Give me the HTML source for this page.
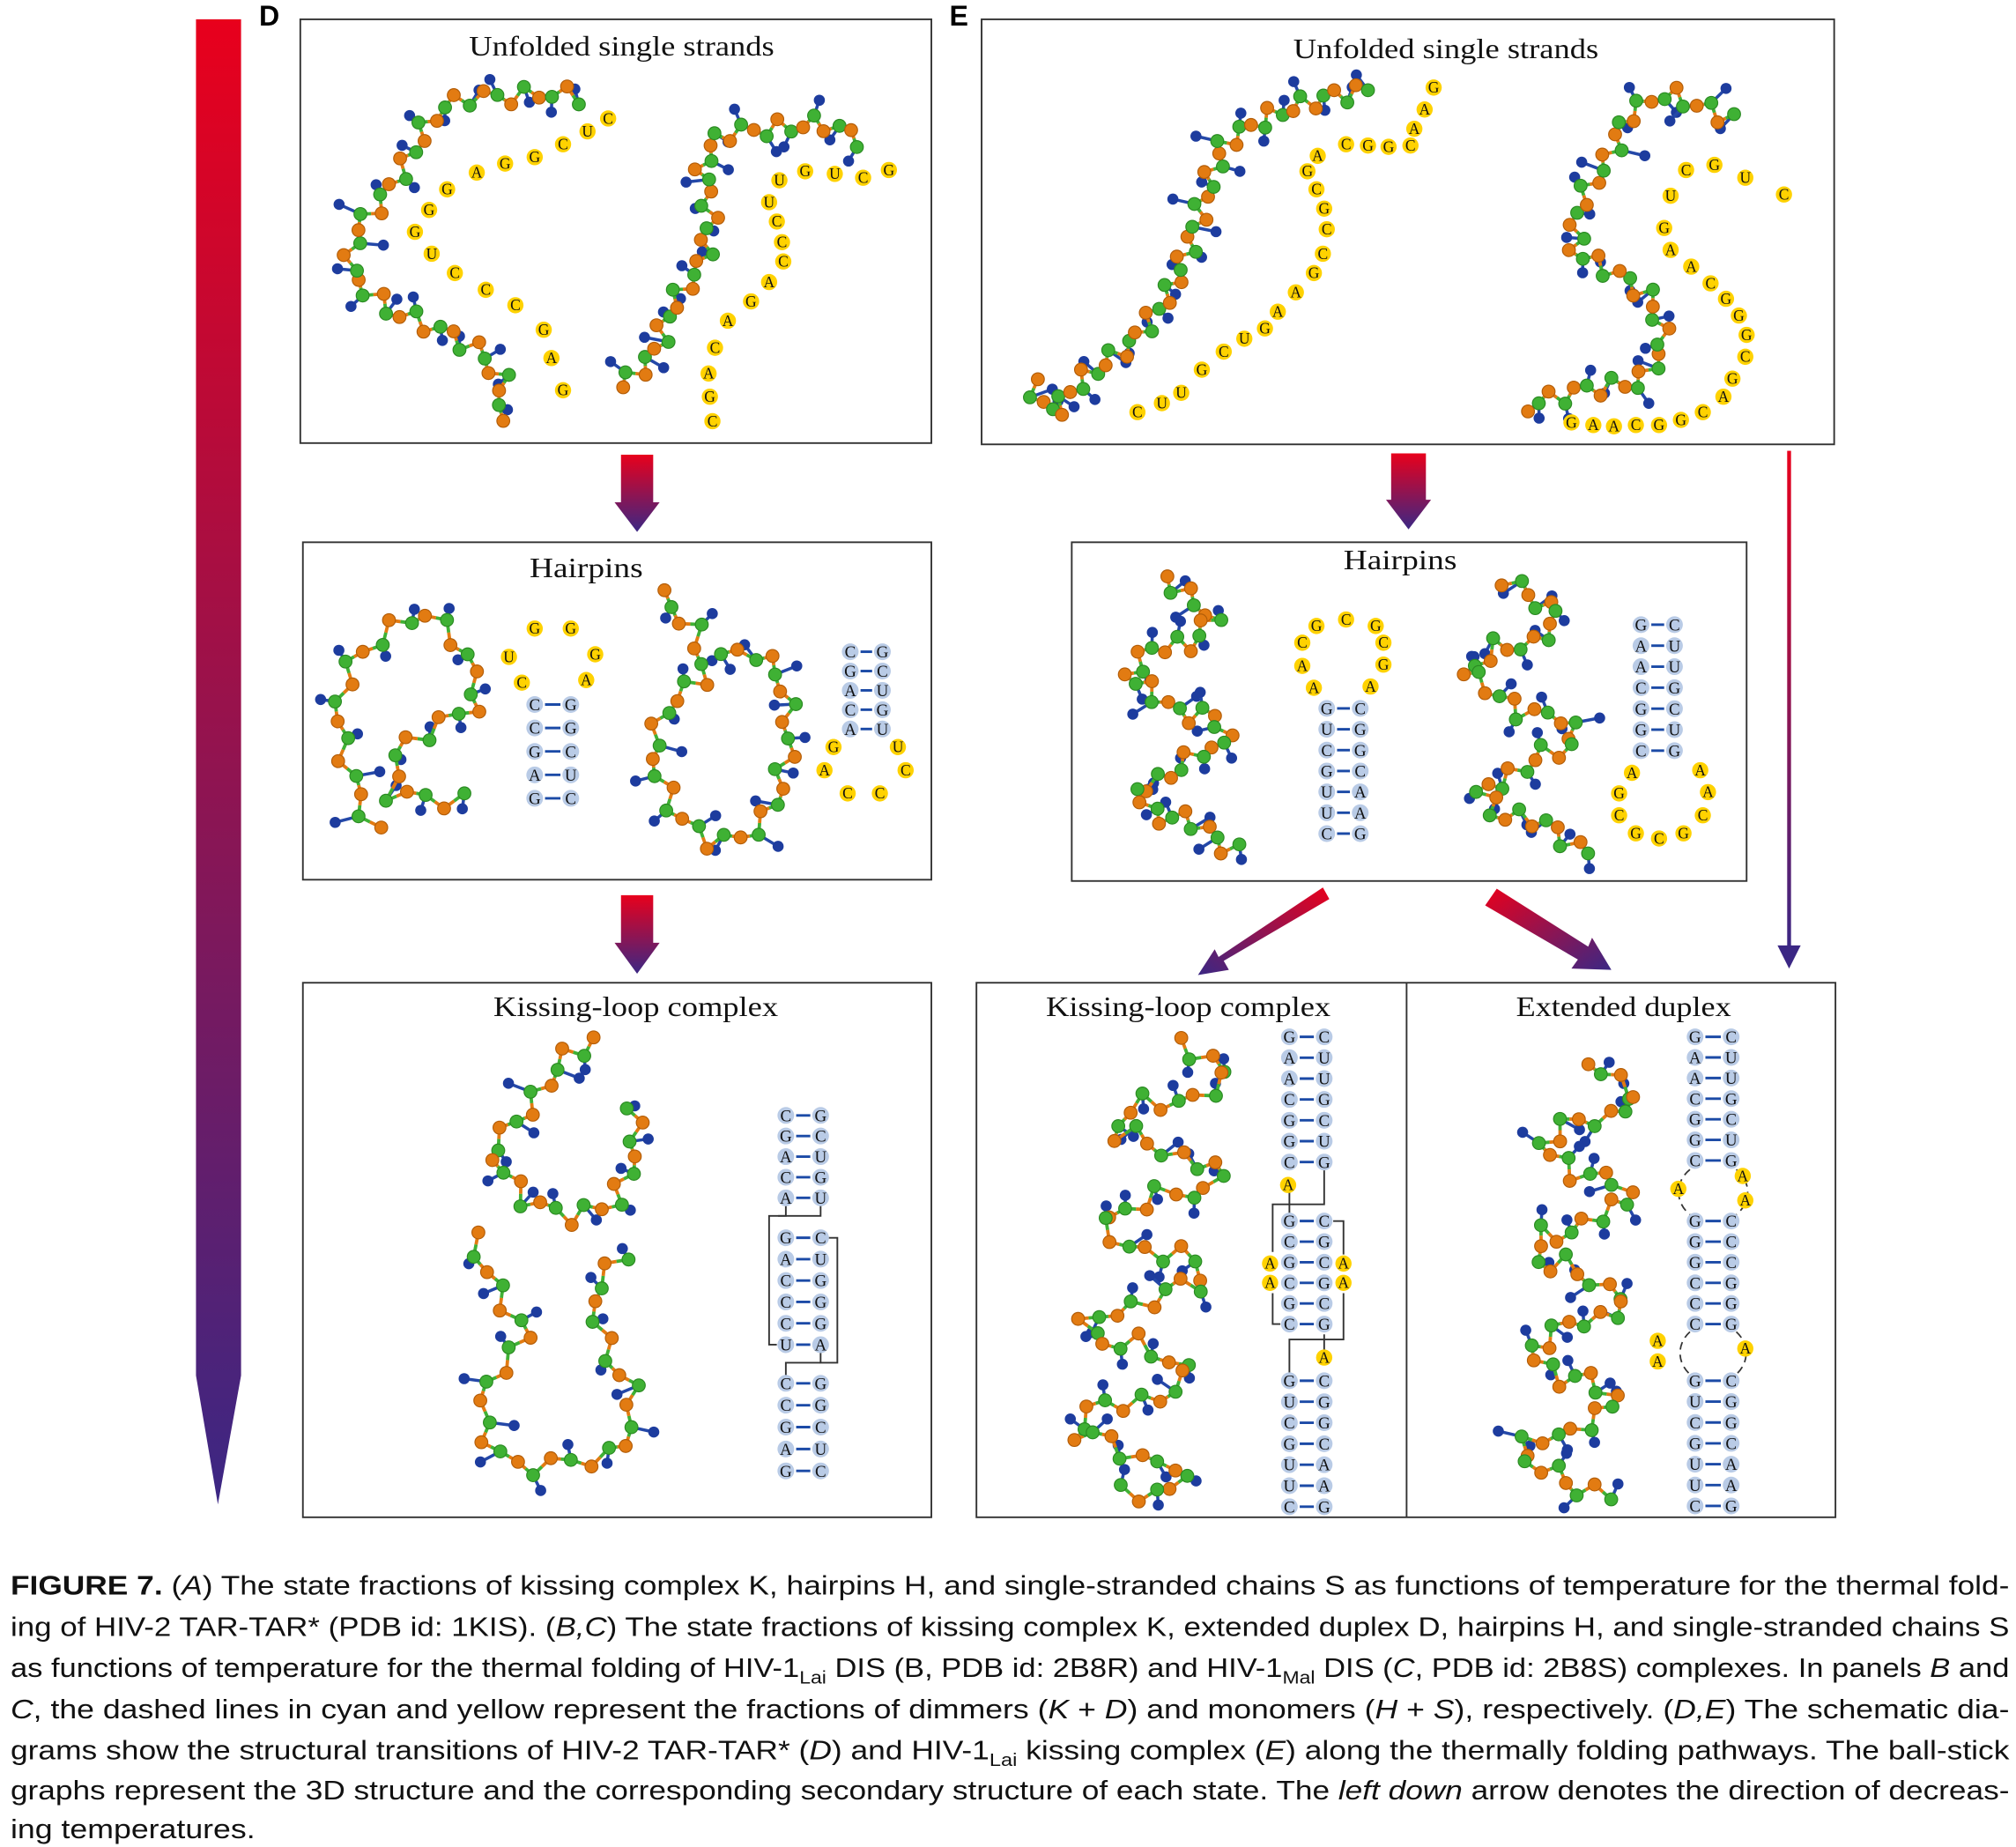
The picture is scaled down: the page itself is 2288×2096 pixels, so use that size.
<!DOCTYPE html>
<html><head><meta charset="utf-8"><style>
html,body{margin:0;padding:0;background:#fff;}
svg{display:block;}
.ttl{font-family:"Liberation Serif",serif;font-size:22px;fill:#111;}
.cap{font-family:"Liberation Sans",sans-serif;font-size:21px;fill:#111;}
</style></head><body>
<svg id="fig" xmlns="http://www.w3.org/2000/svg" width="2288" height="2096" viewBox="0 0 1565 1434">
<defs>
<linearGradient id="gv" x1="0" y1="0" x2="0" y2="1"><stop offset="0" stop-color="#e8001c"/><stop offset="1" stop-color="#3b2784"/></linearGradient>
<linearGradient id="gv2" x1="0" y1="0" x2="0" y2="1"><stop offset="0" stop-color="#e8001c"/><stop offset="1" stop-color="#3b2784"/></linearGradient>
<linearGradient id="gd1" x1="1" y1="0" x2="0" y2="1"><stop offset="0" stop-color="#e8001c"/><stop offset="1" stop-color="#3b2784"/></linearGradient>
<linearGradient id="gd2" x1="0" y1="0" x2="1" y2="1"><stop offset="0" stop-color="#e8001c"/><stop offset="1" stop-color="#3b2784"/></linearGradient>
</defs>

<path d="M152,15 L187,15 L187,1068 L169,1168 L152,1068 Z" fill="url(#gv)"/>
<text x="201" y="20" font-family="Liberation Sans,sans-serif" font-weight="bold" font-size="22">D</text>
<text x="737" y="20" font-family="Liberation Sans,sans-serif" font-weight="bold" font-size="22">E</text>

<g fill="none" stroke="#333" stroke-width="1.3">
<rect x="233" y="15" width="490" height="329"/>
<rect x="762" y="15" width="662" height="330"/>
<rect x="235" y="421" width="488" height="262"/>
<rect x="832" y="421" width="524" height="263"/>
<rect x="235" y="763" width="488" height="415"/>
<rect x="758" y="763" width="667" height="415"/>
<line x1="1092" y1="763" x2="1092" y2="1178"/>
</g>
<g class="ttl">
<text x="364" y="43" textLength="237" lengthAdjust="spacingAndGlyphs">Unfolded single strands</text>
<text x="1004" y="45" textLength="237" lengthAdjust="spacingAndGlyphs">Unfolded single strands</text>
<text x="411" y="448" textLength="88" lengthAdjust="spacingAndGlyphs">Hairpins</text>
<text x="1043" y="442" textLength="88" lengthAdjust="spacingAndGlyphs">Hairpins</text>
<text x="383" y="789" textLength="221" lengthAdjust="spacingAndGlyphs">Kissing-loop complex</text>
<text x="812" y="789" textLength="221" lengthAdjust="spacingAndGlyphs">Kissing-loop complex</text>
<text x="1177" y="789" textLength="167" lengthAdjust="spacingAndGlyphs">Extended duplex</text>
</g>

<path d="M482,353 L507,353 L507,390 L512,390 L494.5,413 L477,390 L482,390 Z" fill="url(#gv2)"/>
<path d="M482,695 L507,695 L507,732 L512,732 L494.5,756 L477,732 L482,732 Z" fill="url(#gv2)"/>
<path d="M1080,352 L1107,352 L1107,388 L1111,388 L1093.5,411 L1076,388 L1080,388 Z" fill="url(#gv2)"/>
<rect x="1387.5" y="350" width="3" height="386" fill="url(#gv2)"/>
<path d="M1380,734 L1398,734 L1389,752 Z" fill="#3b2784"/>
<path d="M1027,689 L1032,698 L950,746 L954,753 L930,757 L943,737 L946,743 Z" fill="url(#gd1)"/>
<path d="M1162,690 L1153,703 L1225,745 L1220,752 L1251,753 L1236,728 L1233,735 Z" fill="url(#gd2)"/>

<g id="mol"></g>
<g id="ss"></g>

<g class="cap">
<text x="8" y="1238" textLength="1552" lengthAdjust="spacingAndGlyphs"><tspan font-weight="bold">FIGURE 7.</tspan>  (<tspan font-style="italic">A</tspan>) The state fractions of kissing complex K, hairpins H, and single-stranded chains S as functions of temperature for the thermal fold-</text>
<text x="8" y="1270" textLength="1552" lengthAdjust="spacingAndGlyphs">ing of HIV-2 TAR-TAR* (PDB id: 1KIS). (<tspan font-style="italic">B,C</tspan>) The state fractions of kissing complex K, extended duplex D, hairpins H, and single-stranded chains S</text>
<text x="8" y="1302" textLength="1552" lengthAdjust="spacingAndGlyphs">as functions of temperature for the thermal folding of HIV-1<tspan font-size="14" dy="5">Lai</tspan><tspan dy="-5"> DIS (B, PDB id: 2B8R) and HIV-1</tspan><tspan font-size="14" dy="5">Mal</tspan><tspan dy="-5"> DIS (</tspan><tspan font-style="italic">C</tspan>, PDB id: 2B8S) complexes. In panels <tspan font-style="italic">B</tspan> and</text>
<text x="8" y="1334" textLength="1552" lengthAdjust="spacingAndGlyphs"><tspan font-style="italic">C</tspan>, the dashed lines in cyan and yellow represent the fractions of dimmers (<tspan font-style="italic">K</tspan> + <tspan font-style="italic">D</tspan>) and monomers (<tspan font-style="italic">H</tspan> + <tspan font-style="italic">S</tspan>), respectively. (<tspan font-style="italic">D,E</tspan>) The schematic dia-</text>
<text x="8" y="1366" textLength="1552" lengthAdjust="spacingAndGlyphs">grams show the structural transitions of HIV-2 TAR-TAR* (<tspan font-style="italic">D</tspan>) and HIV-1<tspan font-size="14" dy="5">Lai</tspan><tspan dy="-5"> kissing complex (</tspan><tspan font-style="italic">E</tspan>) along the thermally folding pathways. The ball-stick</text>
<text x="8" y="1397" textLength="1552" lengthAdjust="spacingAndGlyphs">graphs represent the 3D structure and the corresponding secondary structure of each state. The <tspan font-style="italic">left down</tspan> arrow denotes the direction of decreas-</text>
<text x="8" y="1427" textLength="190" lengthAdjust="spacingAndGlyphs">ing temperatures.</text>
</g>
</svg>
<script>
const NS="http://www.w3.org/2000/svg";
const mol=document.getElementById('mol');
const ss=document.getElementById('ss');
function mk(tag,attrs,parent){const e=document.createElementNS(NS,tag);for(const k in attrs)e.setAttribute(k,attrs[k]);parent.appendChild(e);return e;}

function chain(pts,n,seed,name){
  const g=mk('g',{},mol);
  
  
  let L=[0];for(let i=1;i<pts.length;i++){L.push(L[i-1]+Math.hypot(pts[i][0]-pts[i-1][0],pts[i][1]-pts[i-1][1]));}
  const tot=L[L.length-1];const balls=[];
  for(let i=0;i<n;i++){
    const d=tot*i/(n-1);let k=1;while(k<pts.length-1&&L[k]<d)k++;
    const t=(d-L[k-1])/((L[k]-L[k-1])||1);
    const dx=pts[k][0]-pts[k-1][0],dy=pts[k][1]-pts[k-1][1],ln=Math.hypot(dx,dy)||1;
    const nx=-dy/ln,ny=dx/ln;const j=7*Math.sin(seed+i*2.3);
    balls.push([pts[k-1][0]+dx*t+nx*j,pts[k-1][1]+dy*t+ny*j,nx,ny]);
  }
  const col=i=>i%2?'#3fb134':'#e27b12';
  for(let i=0;i<n;i++){const b=balls[i];
    if(i%2){const s=Math.sin(seed*1.7+i)>0?1:-1;const a=Math.cos(seed+i*1.3)*0.6;
      const bx=b[0]+(b[2]*s+a)*12,by=b[1]+(b[3]*s)*12;
      mk('line',{x1:b[0],y1:b[1],x2:bx,y2:by,stroke:'#2448a8','stroke-width':2.4},g);
      mk('circle',{cx:bx,cy:by,r:4.3,fill:'#1d3c9e'},g);}
  }
  for(let i=0;i<n-1;i++){const a=balls[i],b=balls[i+1];const mx=(a[0]+b[0])/2,my=(a[1]+b[1])/2;
    mk('line',{x1:a[0],y1:a[1],x2:mx,y2:my,stroke:col(i),'stroke-width':2.6},g);
    mk('line',{x1:mx,y1:my,x2:b[0],y2:b[1],stroke:col(i+1),'stroke-width':2.6},g);}
  for(let i=0;i<n;i++){const b=balls[i];mk('circle',{cx:b[0],cy:b[1],r:5,fill:col(i),stroke:i%2?'#2a8a22':'#b35d08','stroke-width':0.8},g);}
}
function helix(x0,y0,x1,y1,w,turns,m){const p=[];for(let i=0;i<=m;i++){const t=i/m;p.push([x0+(x1-x0)*t+w/2*Math.sin(t*turns*2*Math.PI),y0+(y1-y0)*t+ (i%2?6:-6)]);}return p;}

chain([[385,325],[393,300],[372,272],[340,255],[300,240],[272,212],[276,180],[300,150],[320,120],[335,90],[360,75],[400,75],[425,72],[450,75]],42,1,'d-unfolded-strand-1');
chain([[483,300],[510,272],[520,240],[545,205],[552,165],[545,125],[560,103],[600,100],[640,95],[668,108]],36,3,'d-unfolded-strand-2');
chain([[800,298],[815,322],[840,295],[880,265],[910,225],[925,185],[940,140],[950,110],[990,88],[1030,75],[1062,70]],48,5,'e-unfolded-strand-1');
chain([[1185,315],[1230,302],[1275,297],[1292,268],[1283,232],[1255,212],[1222,196],[1225,160],[1250,122],[1262,90],[1292,72],[1345,92]],46,7,'e-unfolded-strand-2');
chain([[290,645],[275,610],[262,565],[268,520],[300,490],[330,475],[358,500],[375,545],[345,560],[310,580],[300,615],[330,620],[360,622]],32,2,'d-hairpin-1');
chain([[512,462],[540,490],[548,525],[520,545],[505,580],[520,625],[545,652],[575,652],[600,630],[613,580],[610,535],[590,505],[560,510]],36,4,'d-hairpin-2');
chain(helix(905,455,925,668,75,2.3,16),44,6,'e-hairpin-1');
chain(helix(1170,455,1195,668,80,2.3,16),44,8,'e-hairpin-2');
chain([[462,808],[438,820],[412,860],[380,890],[405,930],[440,945],[478,935],[495,890],[490,860]],26,9,'d-kissing-strand-1');
chain([[365,960],[385,1000],[410,1040],[380,1070],[372,1110],[400,1140],[440,1135],[480,1130],[495,1085],[470,1050],[460,1000],[485,975]],32,11,'d-kissing-strand-2');
chain(helix(915,815,870,1165,95,4.5,30),70,12,'e-kissing-helix');
chain(helix(1235,830,1215,1165,75,4.2,30),64,13,'e-extended-helix');

function yl(x,y,c,g){mk('circle',{cx:x,cy:y,r:6.3,fill:'#ffd200'},g);const t=mk('text',{x:x,y:y+4,'text-anchor':'middle','font-family':'Liberation Serif,serif','font-size':12,fill:'#111'},g);t.textContent=c;}
function bl(x,y,c,g){mk('circle',{cx:x,cy:y,r:6.5,fill:'#b9cbe6'},g);const t=mk('text',{x:x,y:y+4.5,'text-anchor':'middle','font-family':'Liberation Serif,serif','font-size':13,fill:'#111'},g);t.textContent=c;}
function pair(x1,x2,y,a,b,g){mk('line',{x1:x1+8,y1:y,x2:x2-8,y2:y,stroke:'#1b4aa6','stroke-width':2},g);bl(x1,y,a,g);bl(x2,y,b,g);}
function grp(name){const g=mk('g',{},ss);return g;}
function ln(pts,g){mk('polyline',{points:pts.map(p=>p.join(',')).join(' '),fill:'none',stroke:'#333','stroke-width':1.3},g);}

let g=grp('d-unfolded-sequence-1');
[[472,92,'C'],[456,102,'U'],[437,112,'C'],[415,122,'G'],[392,127,'G'],[370,134,'A'],[347,147,'G'],[333,163,'G'],[322,180,'G'],[335,197,'U'],[353,212,'C'],[377,225,'C'],[400,237,'C'],[422,256,'G'],[428,278,'A'],[437,303,'G']].forEach(p=>yl(p[0],p[1],p[2],g));
g=grp('d-unfolded-sequence-2');
[[690,132,'G'],[670,138,'C'],[648,135,'U'],[625,133,'G'],[605,140,'U'],[597,157,'U'],[603,172,'C'],[607,188,'C'],[608,203,'C'],[597,219,'A'],[583,234,'G'],[565,249,'A'],[555,270,'C'],[550,290,'A'],[551,308,'G'],[553,327,'C']].forEach(p=>yl(p[0],p[1],p[2],g));
g=grp('e-unfolded-sequence-1');
[[883,320,'C'],[902,313,'U'],[917,305,'U'],[933,287,'G'],[950,273,'C'],[966,263,'U'],[982,255,'G'],[992,242,'A'],[1006,227,'A'],[1020,212,'G'],[1027,197,'C'],[1030,178,'C'],[1028,162,'G'],[1022,147,'C'],[1015,133,'G'],[1023,121,'A'],[1045,112,'C'],[1062,113,'G'],[1078,114,'G'],[1095,113,'C'],[1098,100,'A'],[1106,85,'A'],[1113,68,'G']].forEach(p=>yl(p[0],p[1],p[2],g));
g=grp('e-unfolded-sequence-2');
[[1309,132,'C'],[1331,128,'G'],[1355,138,'U'],[1385,151,'C'],[1297,152,'U'],[1292,177,'G'],[1297,194,'A'],[1313,207,'A'],[1328,220,'C'],[1340,232,'G'],[1350,245,'G'],[1356,260,'G'],[1355,277,'C'],[1345,294,'G'],[1338,308,'A'],[1322,320,'C'],[1305,326,'G'],[1288,330,'G'],[1270,330,'C'],[1253,331,'A'],[1237,330,'A'],[1220,328,'G']].forEach(p=>yl(p[0],p[1],p[2],g));

g=grp('d-hairpin-1-secondary');
[[395,510,'U'],[415,488,'G'],[443,488,'G'],[462,508,'G'],[405,530,'C'],[455,528,'A']].forEach(p=>yl(p[0],p[1],p[2],g));
[['C','G'],['C','G'],['G','C'],['A','U'],['G','C']].forEach((p,i)=>pair(415,443,547+i*18.2,p[0],p[1],g));
g=grp('d-hairpin-2-secondary');
[['C','G'],['G','C'],['A','U'],['C','G'],['A','U']].forEach((p,i)=>pair(660,685,506+i*15,p[0],p[1],g));
[[647,580,'G'],[697,580,'U'],[640,598,'A'],[703,598,'C'],[658,616,'C'],[683,616,'C']].forEach(p=>yl(p[0],p[1],p[2],g));

g=grp('e-hairpin-1-secondary');
[[1022,486,'G'],[1045,481,'C'],[1068,486,'G'],[1011,499,'C'],[1074,499,'C'],[1011,517,'A'],[1074,516,'G'],[1020,534,'A'],[1064,533,'A']].forEach(p=>yl(p[0],p[1],p[2],g));
[['G','C'],['U','G'],['C','G'],['G','C'],['U','A'],['U','A'],['C','G']].forEach((p,i)=>pair(1030,1056,550+i*16.2,p[0],p[1],g));
g=grp('e-hairpin-2-secondary');
[['G','C'],['A','U'],['A','U'],['C','G'],['G','C'],['G','U'],['C','G']].forEach((p,i)=>pair(1274,1300,485+i*16.3,p[0],p[1],g));
[[1267,600,'A'],[1320,598,'A'],[1257,616,'G'],[1326,615,'A'],[1257,633,'C'],[1322,633,'C'],[1270,647,'G'],[1288,651,'C'],[1307,647,'G']].forEach(p=>yl(p[0],p[1],p[2],g));

g=grp('d-kissing-secondary');
ln([[610,936],[610,944],[597,944],[597,1044],[603,1044]],g);
ln([[637,936],[637,944],[604,944]],g);
ln([[643,961],[650,961],[650,1058],[637,1058],[637,1050]],g);
ln([[637,1058],[610,1058],[610,1068]],g);
[['C','G'],['G','C'],['A','U'],['C','G'],['A','U']].forEach((p,i)=>pair(610,637,866+i*16,p[0],p[1],g));
[['G','C'],['A','U'],['C','G'],['C','G'],['C','G'],['U','A']].forEach((p,i)=>pair(610,637,961+i*16.6,p[0],p[1],g));
[['C','G'],['C','G'],['G','C'],['A','U'],['G','C']].forEach((p,i)=>pair(610,637,1074+i*17,p[0],p[1],g));

g=grp('e-kissing-secondary');
ln([[1028,908],[1028,935],[988,935],[988,972]],g);ln([[1001,926],[1001,942]],g);
ln([[988,1004],[988,1028],[994,1028]],g);
ln([[1035,948],[1043,948],[1043,974]],g);ln([[1043,1004],[1043,1040],[1001,1040],[1001,1066]],g);ln([[1028,1036],[1028,1048]],g);
[['G','C'],['A','U'],['A','U'],['C','G'],['G','C'],['G','U'],['C','G']].forEach((p,i)=>pair(1001,1028,805+i*16.2,p[0],p[1],g));
yl(1000,920,'A',g);
[['G','C'],['C','G'],['G','C'],['C','G'],['G','C'],['C','G']].forEach((p,i)=>pair(1001,1028,948+i*16,p[0],p[1],g));
[[986,981,'A'],[986,996,'A'],[1043,981,'A'],[1043,996,'A'],[1028,1054,'A']].forEach(p=>yl(p[0],p[1],p[2],g));
[['G','C'],['U','G'],['C','G'],['G','C'],['U','A'],['U','A'],['C','G']].forEach((p,i)=>pair(1001,1028,1072+i*16.3,p[0],p[1],g));

g=grp('e-extended-secondary');
mk('path',{d:'M1312,908 A28,24 0 0 0 1312,943 M1348,908 A28,24 0 0 1 1348,943 M1312,1034 A28,24 0 0 0 1312,1067 M1348,1034 A28,24 0 0 1 1348,1067',fill:'none',stroke:'#333','stroke-width':1.2,'stroke-dasharray':'6,4'},g);
[['G','C'],['A','U'],['A','U'],['C','G'],['G','C'],['G','U'],['C','G']].forEach((p,i)=>pair(1316,1344,805+i*16,p[0],p[1],g));
[['G','C'],['G','C'],['G','C'],['C','G'],['C','G'],['C','G']].forEach((p,i)=>pair(1316,1344,948+i*16,p[0],p[1],g));
[['G','C'],['U','G'],['C','G'],['G','C'],['U','A'],['U','A'],['C','G']].forEach((p,i)=>pair(1316,1344,1072+i*16.2,p[0],p[1],g));
[[1303,923,'A'],[1353,913,'A'],[1355,932,'A'],[1287,1041,'A'],[1287,1057,'A'],[1355,1047,'A']].forEach(p=>yl(p[0],p[1],p[2],g));
</script>
</body></html>
